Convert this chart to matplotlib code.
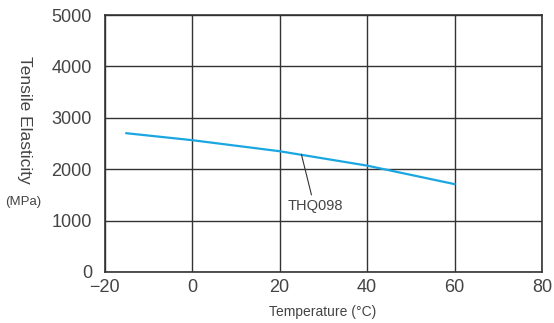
import matplotlib
matplotlib.use("Agg")
import matplotlib.pyplot as plt

temps = [-15, 0, 20, 40, 60]
elasticity = [2700, 2565, 2350, 2070, 1710]
xticks = [-20, 0, 20, 40, 60, 80]
yticks = [0, 1000, 2000, 3000, 4000, 5000]
series_label = "THQ098"

plt.rcParams['font.family'] = ['Liberation Sans', 'DejaVu Sans']

fig = plt.figure(figsize=(5.54, 3.23), dpi=100)
ax = fig.add_axes([104.5/554, 1 - 272/323, (542-104.5)/554, (272-15)/323])

ax.plot(temps, elasticity, color='#1aa7e1', lw=1.6, zorder=3)
ax.set_xlim(-20, 80)
ax.set_ylim(0, 5000)
ax.set_xticks(xticks)
ax.set_yticks(yticks)
ax.set_xticklabels(['\u221220' if t == -20 else str(t) for t in xticks])
ax.grid(True, color='#333333', lw=1.0)
ax.set_axisbelow(True)
for s in ax.spines.values():
    s.set_color('#333333')
    s.set_linewidth(1.2)
ax.tick_params(length=0, labelsize=13, colors='#444444', pad=9)
ax.tick_params(axis='x', pad=5)

ax.annotate(series_label, xy=(25, 2290), xytext=(28.3, 1284),
            ha='center', va='center', fontsize=10.5, color='#444444',
            arrowprops=dict(arrowstyle='-', color='#333333', lw=0.8,
                            shrinkA=1, shrinkB=0, relpos=(0.44, 1.0)))

fig.text(323/554, 1 - 312/323, 'Temperature (\u00b0C)', ha='center', va='center',
         fontsize=10, color='#444444')
fig.text(24/554, 1 - 120/323, 'Tensile Elasticity', rotation=270, ha='center', va='center',
         fontsize=12.5, color='#444444')
fig.text(23/554, 1 - 202/323, '(MPa)', ha='center', va='center',
         fontsize=9.5, color='#444444', stretch='condensed')

fig.savefig('out.png', dpi=100)
